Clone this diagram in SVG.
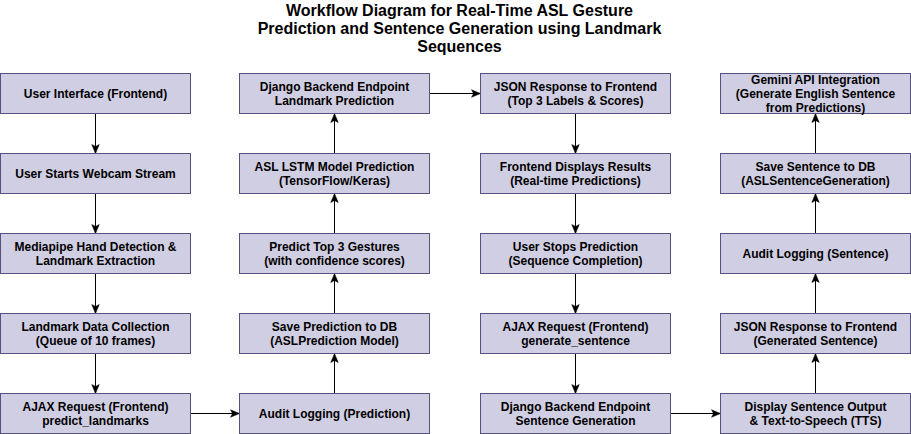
<svg xmlns="http://www.w3.org/2000/svg" width="911" height="434" viewBox="0 0 911 434">
<style>
.bg{fill:#ffffff}
.node rect{fill:#d0cee2;stroke:#56517e;stroke-width:1}
.node text{font-family:"Liberation Sans",Arial,Helvetica,sans-serif;font-size:12px;font-weight:bold;fill:#000000;text-anchor:middle}
.title{font-family:"Liberation Sans",Arial,Helvetica,sans-serif;font-size:16px;font-weight:bold;fill:#000000;text-anchor:middle}
.edge{stroke:#000000;stroke-width:1;fill:none;marker-end:url(#arr)}
</style>
<defs>
<marker id="arr" markerUnits="userSpaceOnUse" markerWidth="10" markerHeight="8" refX="9" refY="3.75" orient="auto" overflow="visible">
<path d="M0,0 L9,3.75 L0,7.5 L2,3.75 Z" fill="#000000" stroke="#000000" stroke-width="0.5"/>
</marker>
</defs>
<rect class="bg" x="0" y="0" width="911" height="434"/>
<g id="title">
<text class="title" x="459.5" y="15.5">Workflow Diagram for Real-Time ASL Gesture</text>
<text class="title" x="459.5" y="33.5">Prediction and Sentence Generation using Landmark</text>
<text class="title" x="459.5" y="51.5">Sequences</text>
</g>
<g id="connectors">
<line class="edge" x1="95.5" y1="113.5" x2="95.5" y2="153.5"/>
<line class="edge" x1="95.5" y1="193.5" x2="95.5" y2="233.5"/>
<line class="edge" x1="95.5" y1="273.5" x2="95.5" y2="313.5"/>
<line class="edge" x1="95.5" y1="353.5" x2="95.5" y2="393.5"/>
<line class="edge" x1="190.5" y1="413.5" x2="239.5" y2="413.5"/>
<line class="edge" x1="334.5" y1="393.5" x2="334.5" y2="353.5"/>
<line class="edge" x1="334.5" y1="313.5" x2="334.5" y2="273.5"/>
<line class="edge" x1="334.5" y1="233.5" x2="334.5" y2="193.5"/>
<line class="edge" x1="334.5" y1="153.5" x2="334.5" y2="113.5"/>
<line class="edge" x1="429.5" y1="93.5" x2="480.5" y2="93.5"/>
<line class="edge" x1="575.5" y1="113.5" x2="575.5" y2="153.5"/>
<line class="edge" x1="575.5" y1="193.5" x2="575.5" y2="233.5"/>
<line class="edge" x1="575.5" y1="273.5" x2="575.5" y2="313.5"/>
<line class="edge" x1="575.5" y1="353.5" x2="575.5" y2="393.5"/>
<line class="edge" x1="670.5" y1="413.5" x2="720.5" y2="413.5"/>
<line class="edge" x1="815.5" y1="393.5" x2="815.5" y2="353.5"/>
<line class="edge" x1="815.5" y1="313.5" x2="815.5" y2="273.5"/>
<line class="edge" x1="815.5" y1="233.5" x2="815.5" y2="193.5"/>
<line class="edge" x1="815.5" y1="153.5" x2="815.5" y2="113.5"/>
</g>
<g id="n1" class="node"><rect x="0.5" y="73.5" width="190" height="40"/><text x="95.5" y="97.8">User Interface (Frontend)</text></g>
<g id="n2" class="node"><rect x="0.5" y="153.5" width="190" height="40"/><text x="95.5" y="177.8">User Starts Webcam Stream</text></g>
<g id="n3" class="node"><rect x="0.5" y="233.5" width="190" height="40"/><text x="95.5" y="250.8">Mediapipe Hand Detection &amp;</text><text x="95.5" y="264.8">Landmark Extraction</text></g>
<g id="n4" class="node"><rect x="0.5" y="313.5" width="190" height="40"/><text x="95.5" y="330.8">Landmark Data Collection</text><text x="95.5" y="344.8">(Queue of 10 frames)</text></g>
<g id="n5" class="node"><rect x="0.5" y="393.5" width="190" height="40"/><text x="95.5" y="410.8">AJAX Request (Frontend)</text><text x="95.5" y="424.8">predict_landmarks</text></g>
<g id="n6" class="node"><rect x="239.5" y="393.5" width="190" height="40"/><text x="334.5" y="417.8">Audit Logging (Prediction)</text></g>
<g id="n7" class="node"><rect x="239.5" y="313.5" width="190" height="40"/><text x="334.5" y="330.8">Save Prediction to DB</text><text x="334.5" y="344.8">(ASLPrediction Model)</text></g>
<g id="n8" class="node"><rect x="239.5" y="233.5" width="190" height="40"/><text x="334.5" y="250.8">Predict Top 3 Gestures</text><text x="334.5" y="264.8">(with confidence scores)</text></g>
<g id="n9" class="node"><rect x="239.5" y="153.5" width="190" height="40"/><text x="334.5" y="170.8">ASL LSTM Model Prediction</text><text x="334.5" y="184.8">(TensorFlow/Keras)</text></g>
<g id="n10" class="node"><rect x="239.5" y="73.5" width="190" height="40"/><text x="334.5" y="90.8">Django Backend Endpoint</text><text x="334.5" y="104.8">Landmark Prediction</text></g>
<g id="n11" class="node"><rect x="480.5" y="73.5" width="190" height="40"/><text x="575.5" y="90.8">JSON Response to Frontend</text><text x="575.5" y="104.8">(Top 3 Labels &amp; Scores)</text></g>
<g id="n12" class="node"><rect x="480.5" y="153.5" width="190" height="40"/><text x="575.5" y="170.8">Frontend Displays Results</text><text x="575.5" y="184.8">(Real-time Predictions)</text></g>
<g id="n13" class="node"><rect x="480.5" y="233.5" width="190" height="40"/><text x="575.5" y="250.8">User Stops Prediction</text><text x="575.5" y="264.8">(Sequence Completion)</text></g>
<g id="n14" class="node"><rect x="480.5" y="313.5" width="190" height="40"/><text x="575.5" y="330.8">AJAX Request (Frontend)</text><text x="575.5" y="344.8">generate_sentence</text></g>
<g id="n15" class="node"><rect x="480.5" y="393.5" width="190" height="40"/><text x="575.5" y="410.8">Django Backend Endpoint</text><text x="575.5" y="424.8">Sentence Generation</text></g>
<g id="n16" class="node"><rect x="720.5" y="393.5" width="190" height="40"/><text x="815.5" y="410.8">Display Sentence Output</text><text x="815.5" y="424.8">&amp; Text-to-Speech (TTS)</text></g>
<g id="n17" class="node"><rect x="720.5" y="313.5" width="190" height="40"/><text x="815.5" y="330.8">JSON Response to Frontend</text><text x="815.5" y="344.8">(Generated Sentence)</text></g>
<g id="n18" class="node"><rect x="720.5" y="233.5" width="190" height="40"/><text x="815.5" y="257.8">Audit Logging (Sentence)</text></g>
<g id="n19" class="node"><rect x="720.5" y="153.5" width="190" height="40"/><text x="815.5" y="170.8">Save Sentence to DB</text><text x="815.5" y="184.8">(ASLSentenceGeneration)</text></g>
<g id="n20" class="node"><rect x="720.5" y="73.5" width="190" height="40"/><text x="815.5" y="83.8">Gemini API Integration</text><text x="815.5" y="97.8">(Generate English Sentence</text><text x="815.5" y="111.8">from Predictions)</text></g>
</svg>
